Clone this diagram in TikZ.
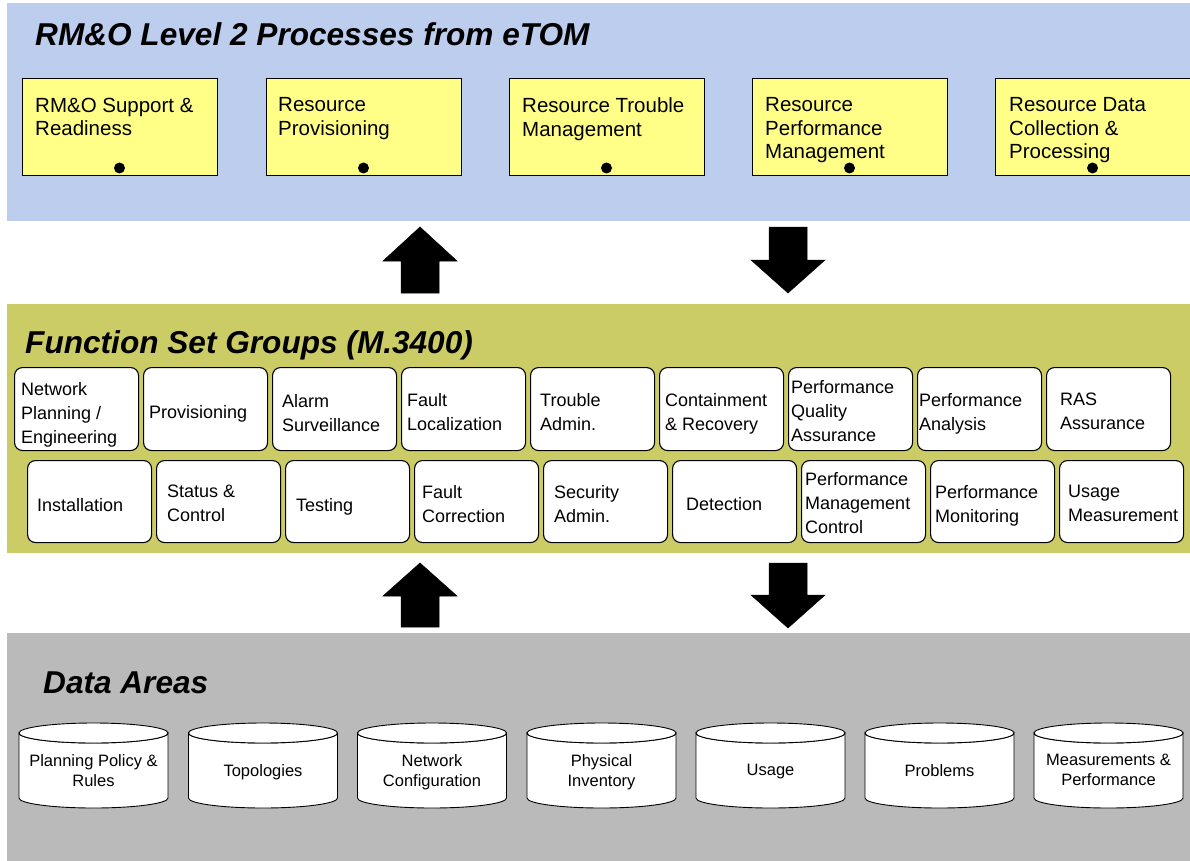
\documentclass[tikz,border=0pt]{standalone}
\usepackage{fontspec}
\setmainfont{Liberation Sans}
\definecolor{topblue}{RGB}{188,205,238}
\definecolor{fsgreen}{RGB}{204,204,102}
\definecolor{dagray}{RGB}{186,186,186}
\definecolor{procyellow}{RGB}{255,255,136}
\tikzset{
  panel/.style={draw=none, anchor=north west, inner sep=0pt, minimum width=1183pt},
  paneltitle/.style={anchor=base west, inner sep=0pt, font=\fontsize{31.6}{36}\selectfont\bfseries\itshape},
  procbox/.style={draw=black, line width=1.1pt, fill=procyellow, anchor=north west, inner sep=0pt, minimum width=195pt, minimum height=97pt},
  proctext/.style={anchor=north west, inner sep=0pt, align=left, font=\fontsize{20.5}{23.5}\selectfont},
  fsbox/.style={draw=black, line width=1.1pt, fill=white, rounded corners=8pt, anchor=north west, inner sep=0pt, minimum width=124pt},
  fstext/.style={anchor=north west, inner sep=0pt, align=left, font=\fontsize{18}{24}\selectfont},
  datext/.style={anchor=north, inner sep=0pt, align=center, font=\fontsize{16.5}{20}\selectfont},
  cyl/.style={draw=black, line width=0.9pt, fill=white},
  blockarrow/.style={fill=black, draw=black, line width=0.5pt, line join=miter},
  dot/.style={circle, fill=black, inner sep=0pt, minimum size=11pt}
}
\begin{document}
\begin{tikzpicture}[x=1pt,y=-1pt]
\useasboundingbox (0,0) rectangle (1190,861);
\fill[white] (0,0) rectangle (1190,861);

% ---------- panels ----------
\node[panel, fill=topblue, minimum height=218pt] (toppanel) at (7,3) {};
\node[panel, fill=fsgreen, minimum height=249pt] (fspanel) at (7,304) {};
\node[panel, fill=dagray, minimum height=228pt] (dapanel) at (7,633) {};

\node[paneltitle] (toptitle) at (35,46) {RM\&O Level 2 Processes from eTOM};
\node[paneltitle] (fstitle) at (25,353) {Function Set Groups (M.3400)};
\node[paneltitle] (datitle) at (43,693) {Data Areas};

% ---------- RM&O level 2 processes ----------
\node[procbox] (p1) at (22,78) {};
\node[procbox] (p2) at (266,78) {};
\node[procbox] (p3) at (509,78) {};
\node[procbox] (p4) at (752,78) {};
\node[procbox] (p5) at (995,78) {};
\node[proctext] (p1t) at (35,97.5) {RM\&O Support \&\\Readiness};
\node[proctext] (p2t) at (278,97.5) {Resource\\Provisioning};
\node[proctext] (p3t) at (522,97.5) {Resource Trouble\\Management};
\node[proctext] (p4t) at (765,97.5) {Resource\\Performance\\Management};
\node[proctext] (p5t) at (1009,97.5) {Resource Data\\Collection \&\\Processing};
\node[dot] (p1d) at (119.5,168) {};
\node[dot] (p2d) at (363.5,168) {};
\node[dot] (p3d) at (606.5,168) {};
\node[dot] (p4d) at (849.5,168) {};
\node[dot] (p5d) at (1092.5,168) {};

% ---------- block arrows ----------
\draw[blockarrow] (420,227) -- (457,261) -- (439,261) -- (439,293) -- (401,293) -- (401,261) -- (383,261) -- cycle;
\draw[blockarrow] (769,227) -- (807,227) -- (807,260) -- (825,260) -- (788,293) -- (751,260) -- (769,260) -- cycle;
\draw[blockarrow] (420,563) -- (457,596) -- (439,596) -- (439,627) -- (401,627) -- (401,596) -- (383,596) -- cycle;
\draw[blockarrow] (769,563) -- (807,563) -- (807,595) -- (825,595) -- (788,628) -- (751,595) -- (769,595) -- cycle;

% ---------- function set groups, row 1 ----------
\foreach \i in {0,...,8} {
  \node[fsbox, minimum height=83pt] (fa\i) at ({14+129*\i},367) {};
}
\node[fstext] (fa0t) at (21,382) {Network\\Planning /\\Engineering};
\node[fstext] (fa1t) at (149,405) {Provisioning};
\node[fstext] (fa2t) at (282,394) {Alarm\\Surveillance};
\node[fstext] (fa3t) at (407,393) {Fault\\Localization};
\node[fstext] (fa4t) at (540,393) {Trouble\\Admin.};
\node[fstext] (fa5t) at (665,393) {Containment\\\& Recovery};
\node[fstext] (fa6t) at (791,380) {Performance\\Quality\\Assurance};
\node[fstext] (fa7t) at (919,393) {Performance\\Analysis};
\node[fstext] (fa8t) at (1060,393) {RAS\\Assurance};

% ---------- function set groups, row 2 ----------
\foreach \i in {0,...,8} {
  \node[fsbox, minimum height=82pt] (fb\i) at ({27+129*\i},460) {};
}
\node[fstext] (fb0t) at (37,498) {Installation};
\node[fstext] (fb1t) at (167,485) {Status \&\\Control};
\node[fstext] (fb2t) at (296,498) {Testing};
\node[fstext] (fb3t) at (422,485) {Fault\\Correction};
\node[fstext] (fb4t) at (554,485) {Security\\Admin.};
\node[fstext] (fb5t) at (686,497) {Detection};
\node[fstext] (fb6t) at (805,472) {Performance\\Management\\Control};
\node[fstext] (fb7t) at (935,485) {Performance\\Monitoring};
\node[fstext] (fb8t) at (1068,485) {Usage\\Measurement};

% ---------- data areas (cylinders) ----------
\foreach \L [count=\k] in {19,188.5,357.5,527,696,865,1034} {
  \pgfmathsetmacro{\R}{\L+149}
  \pgfmathsetmacro{\C}{\L+74.5}
  \draw[cyl] (\L,733) -- (\L,798) arc[start angle=180, end angle=0, x radius=74.5, y radius=10]
        -- (\R,733) arc[start angle=0, end angle=180, x radius=74.5, y radius=10] -- cycle;
  \draw[cyl] (\C,733) ellipse [x radius=74.5, y radius=10];
}
\node[datext] (d1t) at (93.5,754) {Planning Policy \&\\Rules};
\node[datext] (d2t) at (263,764) {Topologies};
\node[datext] (d3t) at (432,754) {Network\\Configuration};
\node[datext] (d4t) at (601.5,754) {Physical\\Inventory};
\node[datext] (d5t) at (770.5,764) {Usage};
\node[datext] (d6t) at (939.5,764) {Problems};
\node[datext] (d7t) at (1108.5,754) {Measurements \&\\Performance};
\end{tikzpicture}
\end{document}
